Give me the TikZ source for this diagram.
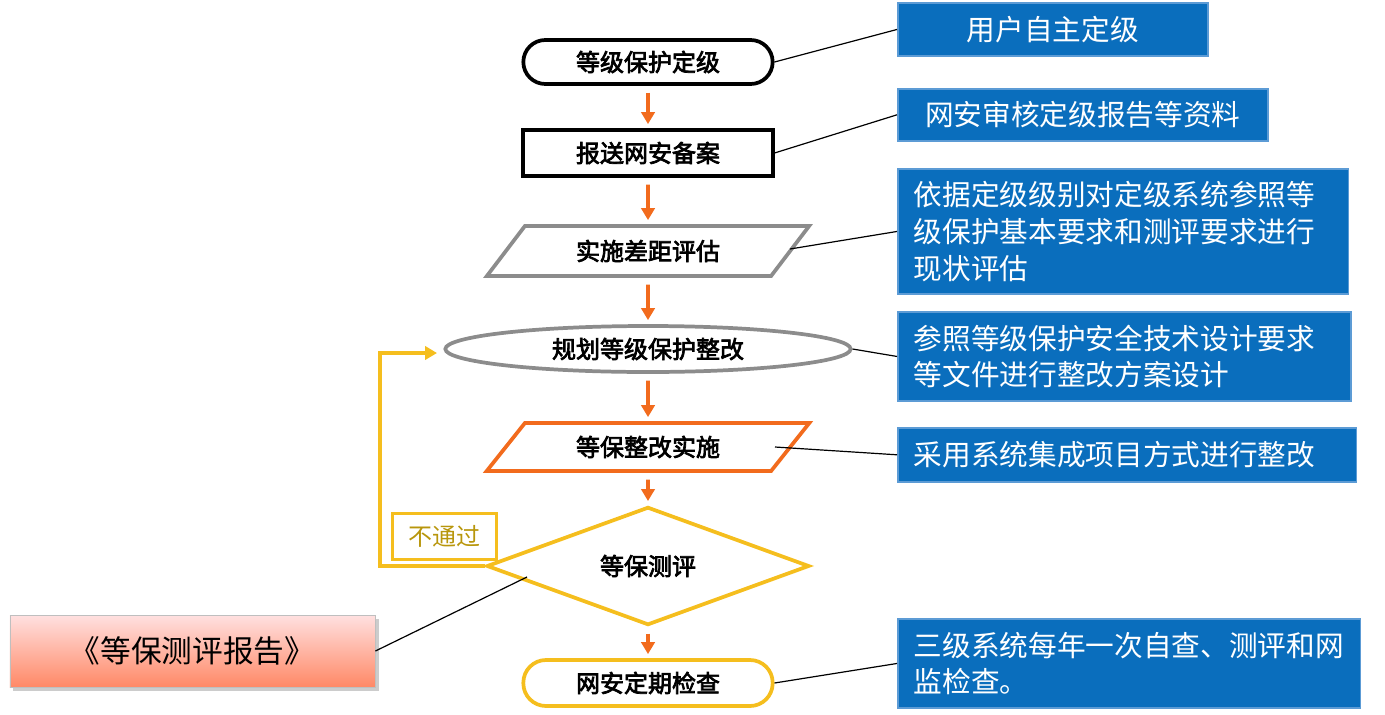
\documentclass[tikz,border=0pt]{standalone}
\usepackage{fontspec}
\setmainfont{Noto Sans CJK SC}[AutoFakeBold=3]
\usetikzlibrary{positioning,shapes.geometric,arrows.meta,shadows}
\definecolor{arr}{HTML}{F26B1D}
\definecolor{blu}{HTML}{0A6EBD}
\definecolor{blb}{HTML}{5C9BD5}
\definecolor{yel}{HTML}{F5BE1E}
\definecolor{olv}{HTML}{B8960C}
\begin{document}
\begin{tikzpicture}[
    x=0.75pt,y=-0.75pt,
    stepbox/.style={
      line width=2.8pt,
      inner sep=0pt,
      font=\fontsize{18}{20}\selectfont\bfseries
    },
    para/.style={
      stepbox,
      trapezium,
      trapezium left angle=45,
      trapezium right angle=135,
      trapezium stretches=true
    },
    note/.style={
      draw=blb,
      fill=blu,
      line width=1.2pt,
      text=white,
      anchor=north west,
      inner xsep=12pt,
      align=left,
      font=\fontsize{21.5}{27.5}\selectfont
    },
    flow/.style={
      arr,
      line width=2.8pt,
      -{Triangle[length=9pt,width=10pt]},
      shorten <=5pt,
      shorten >=3pt
    },
    link/.style={black, line width=0.9pt}
    ]
    \useasboundingbox (0,0) rectangle (1385,714);

    % main flow
    \node[stepbox,draw=black,rounded corners=16.5pt,minimum width=187pt,minimum height=33pt] at (648,62)
      (level) {等级保护定级};
    \node[stepbox,draw=black,minimum width=187pt,minimum height=34.5pt] at (648,153)
      (file) {报送网安备案};
    \node[para,draw=gray!90,minimum width=242pt,minimum height=37.5pt] at (648,251)
      (gap) {实施差距评估};
    \node[stepbox,ellipse,draw=gray!90,minimum width=304pt,minimum height=34.5pt] at (648,349)
      (plan) {规划等级保护整改};
    \node[para,draw=arr,minimum width=242pt,minimum height=36pt] at (648,447)
      (fix) {等保整改实施};
    \node[stepbox,diamond,draw=yel,minimum width=242pt,minimum height=63pt] at (648,566)
      (test) {等保测评};
    \node[stepbox,draw=yel,rounded corners=17pt,minimum width=187pt,minimum height=34.5pt] at (648,683)
      (check) {网安定期检查};

    \draw[flow] (level) -- (file);
    \draw[flow] (file) -- (gap);
    \draw[flow] (gap) -- (plan);
    \draw[flow] (plan) -- (fix);
    \draw[flow] (fix) -- (test);
    \draw[flow] (test) -- (check);

    % fail loop
    \coordinate (back) at (437,353);
    \draw[yel,line width=2.8pt,-{Triangle[length=9pt,width=10pt]}] (test.west) -| (380,353) -- (back);
    \node[draw=yel,line width=2.4pt,text=olv,minimum width=78pt,minimum height=34pt,
      font=\fontsize{18}{20}\selectfont] at (444.5,536.5) (fail) {不通过};

    % notes
    \node[note,align=center,minimum width=232.5pt,minimum height=40pt] at (897,2)
      (n1) {用户自主定级};
    \node[note,minimum width=277.5pt,minimum height=39pt] at (897,88)
      (n2) {网安审核定级报告等资料};
    \node[note,text width=314pt,minimum height=94pt] at (897,168)
      (n3) {依据定级级别对定级系统参照等\\级保护基本要求和测评要求进行\\现状评估};
    \node[note,text width=316pt,minimum height=67pt] at (897,311)
      (n4) {参照等级保护安全技术设计要求\\等文件进行整改方案设计};
    \node[note,text width=320pt,minimum height=40.5pt] at (897,427)
      (n5) {采用系统集成项目方式进行整改};
    \node[note,text width=323pt,minimum height=67pt] at (897,618)
      (n6) {三级系统每年一次自查、测评和网\\监检查。};

    \node[shading=axis,top color=red!12,bottom color=red!55!orange!60,draw=gray!50,
      drop shadow={opacity=0.4},minimum width=274pt,minimum height=54pt,
      font=\fontsize{23}{24}\selectfont] at (192.5,651)
      (report) {《等保测评报告》};

    \draw[link] (level.east) -- (n1.west);
    \draw[link] (file.east) -- (n2.west);
    \draw[link] (790,249) -- (n3.west);
    \draw[link] (plan.east) -- (n4.west);
    \draw[link] (775,447) -- (n5.west);
    \draw[link] (check.east) -- (n6.west);
    \draw[link] (report.east) -- (527,577);
\end{tikzpicture}
\end{document}
